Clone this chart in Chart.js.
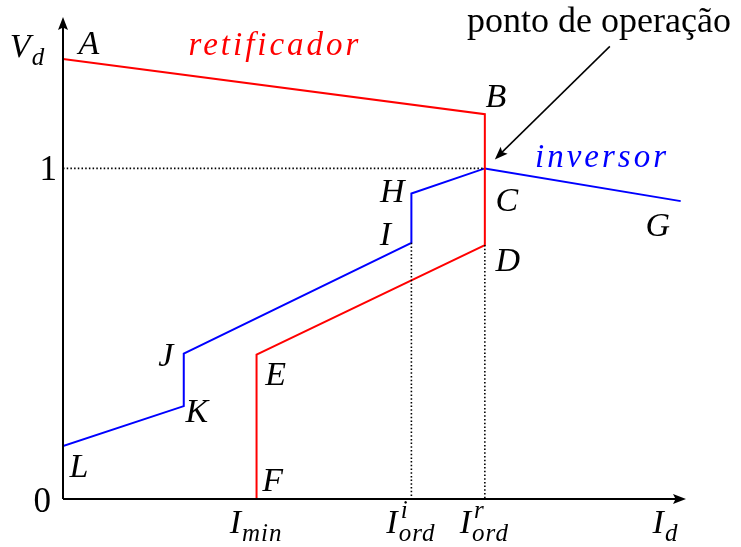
<!DOCTYPE html>
<html><head><meta charset="utf-8">
<script src="https://cdn.jsdelivr.net/npm/chart.js@4"></script>
<style>html,body{margin:0;padding:0;background:#fff}#wrap{width:741px;height:547px}</style>
</head><body><div id="wrap"><canvas id="c"></canvas></div>
<script>
// Rectifier characteristic: A -> B -> D -> E -> F
const rectNames = ['A', 'B', 'D', 'E', 'F'];
const rectI = [0, 1.275, 1.275, 0.585, 0.585];
const rectV = [1.331, 1.164, 0.768, 0.437, 0];
// Inverter characteristic: G -> C -> H -> I -> J -> K -> L
const invNames = ['G', 'C', 'H', 'I', 'J', 'K', 'L'];
const invI = [1.867, 1.275, 1.053, 1.053, 0.365, 0.365, 0];
const invV = [0.901, 1.0, 0.924, 0.775, 0.440, 0.281, 0.160];
// Current orders and rated voltage
const iMin = 0.585, iOrdInv = 1.053, iOrdRect = 1.275;
const vRated = 1;
const axisMaxI = 1.883, axisMaxV = 1.458;

const pts = (xs, ys) => xs.map((x, i) => ({ x, y: ys[i] }));
const pointAt = {};
rectNames.forEach((n, i) => pointAt[n] = { x: rectI[i], y: rectV[i] });
invNames.forEach((n, i) => pointAt[n] = { x: invI[i], y: invV[i] });

const SERIF = '"Liberation Serif", "DejaVu Serif", serif';

function mathLabel(ctx, cx, cy, main, sub, sup, color) {
  ctx.save();
  ctx.fillStyle = color || '#000';
  ctx.textBaseline = 'alphabetic';
  ctx.textAlign = 'left';
  const big = 'italic 34px ' + SERIF, small = 'italic 25px ' + SERIF;
  ctx.font = big; const wm = ctx.measureText(main).width;
  ctx.font = small;
  ctx.letterSpacing = '1px';
  const ws = sub ? ctx.measureText(sub).width : 0;
  const wp = sup ? ctx.measureText(sup).width : 0;
  const extra = Math.max(ws, wp);
  const w = wm + (extra ? extra + 2 : 0);
  const x0 = cx - w / 2, base = cy + 12;
  ctx.letterSpacing = '0px';
  ctx.font = big; ctx.fillText(main, x0, base);
  ctx.font = small;
  ctx.letterSpacing = '1px';
  if (sub) ctx.fillText(sub, x0 + wm + 1, base + 8);
  if (sup) ctx.fillText(sup, x0 + wm + 3, base - 15);
  ctx.restore();
}

function arrowHead(ctx, tx, ty, ang, len, half) {
  ctx.beginPath();
  ctx.moveTo(tx, ty);
  ctx.lineTo(tx - len * Math.cos(ang) + half * Math.sin(ang), ty - len * Math.sin(ang) - half * Math.cos(ang));
  ctx.lineTo(tx - len * Math.cos(ang) * 0.8, ty - len * Math.sin(ang) * 0.8);
  ctx.lineTo(tx - len * Math.cos(ang) - half * Math.sin(ang), ty - len * Math.sin(ang) + half * Math.cos(ang));
  ctx.closePath();
  ctx.fill();
}

// Offsets (px) of each vertex letter from its vertex
const labelOffset = {
  A: [26, -17], B: [11, -19], C: [22, 31], D: [23, 14], E: [19, 18], F: [16, -20],
  G: [-23, 23], H: [-19, -4], I: [-26, -10], J: [-18, 0], K: [13, 4], L: [16, 19]
};

const decor = {
  id: 'decor',
  afterDatasetsDraw(chart) {
    const ctx = chart.ctx, xs = chart.scales.x, ys = chart.scales.y;
    const a = chart.chartArea;
    const ox = xs.getPixelForValue(0), oy = ys.getPixelForValue(0);
    ctx.save();
    // axes with arrows
    ctx.strokeStyle = '#000'; ctx.fillStyle = '#000'; ctx.lineWidth = 2;
    ctx.beginPath();
    ctx.moveTo(ox, oy); ctx.lineTo(a.right - 6, oy);
    ctx.moveTo(ox, oy); ctx.lineTo(ox, a.top + 6);
    ctx.stroke();
    arrowHead(ctx, a.right, oy, 0, 13, 5);
    arrowHead(ctx, ox, a.top, -Math.PI / 2, 13, 5);

    // vertex letters
    Object.keys(labelOffset).forEach(n => {
      const p = pointAt[n];
      const px = xs.getPixelForValue(p.x), py = ys.getPixelForValue(p.y);
      mathLabel(ctx, px + labelOffset[n][0], py + labelOffset[n][1], n);
    });

    // axis labels
    ctx.fillStyle = '#000';
    ctx.font = '35px ' + SERIF;
    ctx.textAlign = 'right'; ctx.textBaseline = 'alphabetic';
    ctx.fillText('1', ox - 6, ys.getPixelForValue(vRated) + 12);
    ctx.fillText('0', ox - 12, oy + 13);
    mathLabel(ctx, 28, 45, 'V', 'd');
    const by = oy + 22;
    mathLabel(ctx, xs.getPixelForValue(iMin), by, 'I', 'min');
    mathLabel(ctx, xs.getPixelForValue(iOrdInv), by, 'I', 'ord', 'i');
    mathLabel(ctx, xs.getPixelForValue(iOrdRect), by, 'I', 'ord', 'r');
    mathLabel(ctx, 666, by, 'I', 'd');

    // curve names
    ctx.textAlign = 'center';
    ctx.font = 'italic 33px ' + SERIF;
    ctx.letterSpacing = '3px';
    ctx.fillStyle = '#ff0000';
    ctx.fillText('retificador', 275, 55);
    ctx.fillStyle = '#0000ff';
    ctx.fillText('inversor', 602, 167);
    ctx.letterSpacing = '0px';

    // operating point annotation
    ctx.fillStyle = '#000';
    ctx.font = '36px ' + SERIF;
    ctx.fillText('ponto de operação', 599, 32);
    const cx = xs.getPixelForValue(iOrdRect), cy = ys.getPixelForValue(vRated);
    const tx = cx + 10, ty = cy - 9, sx = cx + 125, sy = cy - 122;
    ctx.strokeStyle = '#000'; ctx.lineWidth = 1.5;
    ctx.beginPath(); ctx.moveTo(sx, sy); ctx.lineTo(tx + 6, ty - 6); ctx.stroke();
    arrowHead(ctx, tx, ty, Math.atan2(ty - sy, tx - sx), 13, 5);
    ctx.restore();
  }
};

const dotted = { borderColor: '#000', borderWidth: 1.6, borderDash: [1.5, 2.2], showLine: true, pointRadius: 0, fill: false };

new Chart(document.getElementById('c'), {
  type: 'scatter',
  data: {
    datasets: [
      { ...dotted, data: [{ x: 0, y: vRated }, { x: iOrdRect, y: vRated }] },
      { ...dotted, data: [pointAt.I, { x: iOrdInv, y: 0 }] },
      { ...dotted, data: [pointAt.D, { x: iOrdRect, y: 0 }] },
      { label: 'retificador', data: pts(rectI, rectV), showLine: true, borderColor: '#ff0000', borderWidth: 2, pointRadius: 0, fill: false },
      { label: 'inversor', data: pts(invI, invV), showLine: true, borderColor: '#0000ff', borderWidth: 2, pointRadius: 0, fill: false }
    ]
  },
  options: {
    responsive: true, maintainAspectRatio: false, animation: false,
    layout: { padding: { left: 63, right: 55, top: 17, bottom: 48 } },
    plugins: { legend: { display: false }, tooltip: { enabled: false } },
    scales: {
      x: { type: 'linear', min: 0, max: axisMaxI, display: false },
      y: { type: 'linear', min: 0, max: axisMaxV, display: false }
    }
  },
  plugins: [decor]
});
</script></body></html>
